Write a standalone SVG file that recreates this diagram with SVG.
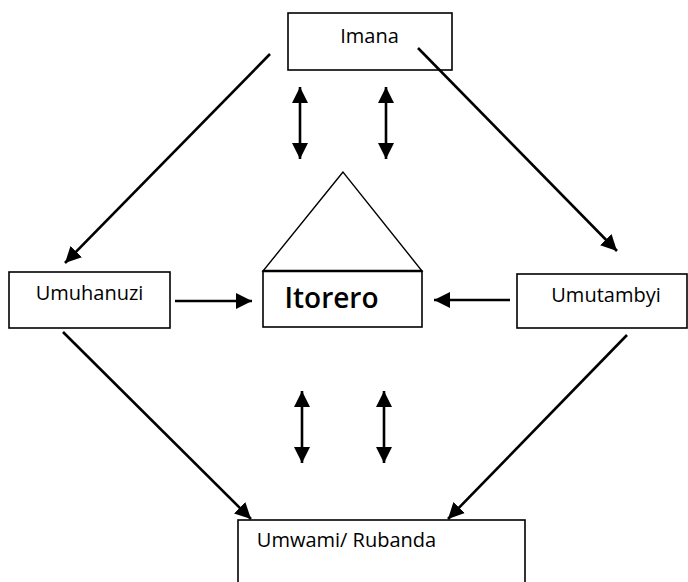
<svg xmlns="http://www.w3.org/2000/svg" width="688" height="582" viewBox="0 0 688 582">
<style>
.box{fill:#fff;stroke:#000;stroke-width:1.6}
.lbl{font-family:"Open Sans","Noto Sans","Liberation Sans",sans-serif;font-size:20px;fill:#000;text-anchor:middle}
.big{font-size:28px;font-weight:600}
.c{stroke:#000;stroke-width:2.6;fill:none}
</style>
<defs>
<marker id="ah" markerUnits="userSpaceOnUse" markerWidth="18" markerHeight="18" refX="16" refY="8" orient="auto-start-reverse" viewBox="0 0 18 16">
<path d="M0,0 L16,8 L0,16 z" fill="#000"/>
</marker>
</defs>
<rect width="688" height="582" fill="#fff"/>
<g id="imana">
<rect class="box" x="288" y="13" width="164" height="57"/>
<text class="lbl" x="369.5" y="43">Imana</text>
</g>
<g id="umuhanuzi">
<rect class="box" x="9" y="272" width="161" height="56"/>
<text class="lbl" x="89.5" y="300">Umuhanuzi</text>
</g>
<g id="umutambyi">
<rect class="box" x="517" y="274" width="170" height="54"/>
<text class="lbl" x="606" y="302">Umutambyi</text>
</g>
<g id="itorero">
<polygon points="343,172 263,271 422,271" fill="#fff" stroke="#000" stroke-width="1.4"/>
<rect class="box" x="263" y="271" width="159" height="56"/>
<line x1="263" y1="271" x2="422" y2="271" stroke="#000" stroke-width="2.6"/>
<text class="lbl big" x="331.5" y="308">Itorero</text>
</g>
<g id="umwami">
<rect class="box" x="238" y="520" width="287" height="80"/>
<text class="lbl" x="346.5" y="547">Umwami/ Rubanda</text>
</g>
<g id="connectors">
<line class="c" x1="270" y1="54" x2="65" y2="263" marker-end="url(#ah)"/>
<line class="c" x1="418" y1="48" x2="617" y2="251" marker-end="url(#ah)"/>
<line class="c" x1="175" y1="301" x2="252" y2="301" marker-end="url(#ah)"/>
<line class="c" x1="510" y1="300" x2="434" y2="300" marker-end="url(#ah)"/>
<line class="c" x1="63" y1="332" x2="251" y2="519" marker-end="url(#ah)"/>
<line class="c" x1="627" y1="335" x2="448" y2="519" marker-end="url(#ah)"/>
<line class="c" x1="300" y1="87" x2="300" y2="159" marker-start="url(#ah)" marker-end="url(#ah)"/>
<line class="c" x1="386" y1="87" x2="386" y2="159" marker-start="url(#ah)" marker-end="url(#ah)"/>
<line class="c" x1="302" y1="391" x2="302" y2="463" marker-start="url(#ah)" marker-end="url(#ah)"/>
<line class="c" x1="384" y1="391" x2="384" y2="463" marker-start="url(#ah)" marker-end="url(#ah)"/>
</g>
</svg>
